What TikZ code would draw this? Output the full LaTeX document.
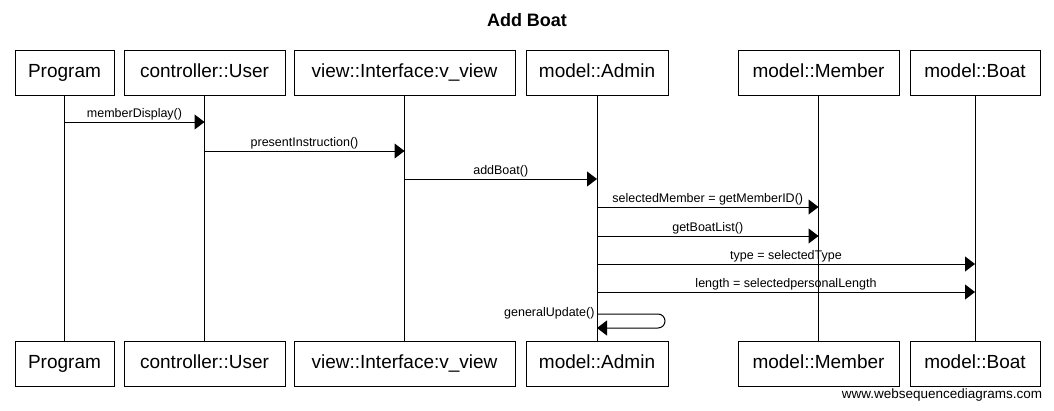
\documentclass[tikz,border=0pt]{standalone}
\usepackage{fontspec}
\setmainfont{Liberation Sans}
\usepackage{xcolor}
\usetikzlibrary{arrows.meta,positioning}
\tikzset{
    every node/.style={font=\fontsize{12.5}{14}\selectfont}
}

\begin{document}
\begin{tikzpicture}[x=1pt,y=-1pt,line width=1pt,node distance=10pt]
            % Define styles
            \tikzstyle{actor} = [rectangle, draw, fill=white, minimum height=45pt,
                inner sep=0pt, text height=14pt, text depth=4pt, font=\fontsize{19}{22}\selectfont]
            \tikzstyle{msg} = [-{Triangle[length=10pt,width=15pt]}]
            \tikzstyle{lbl} = [above, inner sep=1.5pt]

            \useasboundingbox (0,0) rectangle (1054,410);

            % Title
            \node [font=\bfseries\fontsize{18}{21}\selectfont] (title) at (527,20) {Add Boat};

            % Place participants (top row)
            \node [actor, minimum width=99pt] (program) at (64.5,72.5) {Program};
            \node [actor, minimum width=161pt, right=9pt of program] (user) {controller::User};
            \node [actor, minimum width=221pt, right=8pt of user] (view) {view::Interface:v\_view};
            \node [actor, minimum width=142pt, right=10pt of view] (admin) {model::Admin};
            \node [actor, minimum width=161pt, right=69pt of admin] (member) {model::Member};
            \node [actor, minimum width=130pt, right=10pt of member] (boat) {model::Boat};

            % Place participants (bottom row)
            \node [actor, minimum width=99pt, below=245pt of program] (program2) {Program};
            \node [actor, minimum width=161pt, below=245pt of user] (user2) {controller::User};
            \node [actor, minimum width=221pt, below=245pt of view] (view2) {view::Interface:v\_view};
            \node [actor, minimum width=142pt, below=245pt of admin] (admin2) {model::Admin};
            \node [actor, minimum width=161pt, below=245pt of member] (member2) {model::Member};
            \node [actor, minimum width=130pt, below=245pt of boat] (boat2) {model::Boat};

            % Lifelines
            \draw (program) -- (program2);
            \draw (user) -- (user2);
            \draw (view) -- (view2);
            \draw (admin) -- (admin2);
            \draw (member) -- (member2);
            \draw (boat) -- (boat2);

            % Messages
            \draw [msg] (program |- 0,122) -- node [lbl] {memberDisplay()} (user |- 0,122);
            \draw [msg] (user |- 0,151) -- node [lbl] {presentInstruction()} (view |- 0,151);
            \draw [msg] (view |- 0,179) -- node [lbl] {addBoat()} (admin |- 0,179);
            \draw [msg] (admin |- 0,207) -- node [lbl] {selectedMember = getMemberID()} (member |- 0,207);
            \draw [msg] (admin |- 0,236) -- node [lbl] {getBoatList()} (member |- 0,236);
            \draw [msg] (admin |- 0,264) -- node [lbl] {type = selectedType} (boat |- 0,264);
            \draw [msg] (admin |- 0,292) -- node [lbl] {length = selectedpersonalLength} (boat |- 0,292);
            \draw [msg, rounded corners=7pt] (admin |- 0,314) node [anchor=east, inner sep=2pt, yshift=1pt] {generalUpdate()}
                -- ++(68,0) -- ++(0,14) -- (admin |- 0,328);

            % Credit
            \node [anchor=east, font=\fontsize{13.5}{15}\selectfont] (credit) at (1046,395) {www.websequencediagrams.com};
        \end{tikzpicture}
\end{document}
